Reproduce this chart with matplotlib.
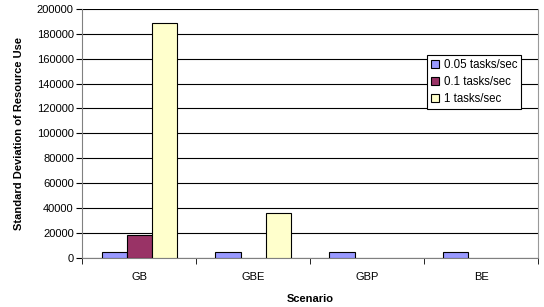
import matplotlib
matplotlib.use("Agg")
import matplotlib.pyplot as plt
import numpy as np

plt.rcParams["font.family"] = ["Liberation Sans", "DejaVu Sans"]

scenarios = ["GB", "GBE", "GBP", "BE"]
series_names = ["0.05 tasks/sec", "0.1 tasks/sec", "1 tasks/sec"]
rate_005 = [5000, 5000, 5000, 5000]
rate_01 = [18000, 0, 0, 0]
rate_1 = [188500, 36000, 0, 0]
colors = ["#9999FF", "#993366", "#FFFFCC"]

fig = plt.figure(figsize=(5.44, 3.07), dpi=100)
ax = fig.add_axes([0.151, 0.160, 0.838, 0.811])

x = np.arange(len(scenarios))
width = 0.22
for i, (vals, name, col) in enumerate(zip([rate_005, rate_01, rate_1], series_names, colors)):
    bars = ax.bar(x + (i - 1) * width, vals, width, color=col, edgecolor="black",
                  linewidth=0.8, label=name, zorder=3)
    for b, v in zip(bars, vals):
        if v == 0:
            b.set_visible(False)

ax.set_xlim(-0.5, len(scenarios) - 0.5)
ax.set_ylim(0, 200000)
ax.set_yticks(np.arange(0, 200001, 20000))
ax.yaxis.grid(True, color="black", linewidth=0.8, zorder=0)

ax.set_xticks(x)
ax.set_xticklabels(scenarios, fontsize=8)
ax.set_xticks(np.arange(-0.5, len(scenarios)), minor=True)
ax.tick_params(axis="x", which="major", length=0, pad=10)
ax.tick_params(axis="x", which="minor", length=4, color="black")
ax.tick_params(axis="y", labelsize=8, length=4, pad=2)

ax.spines["top"].set_visible(False)
ax.spines["right"].set_color("#999999")
ax.spines["left"].set_color("#808080")
ax.spines["bottom"].set_color("#808080")

ax.set_xlabel("Scenario", fontsize=8, fontweight="bold", labelpad=9)
ax.set_ylabel("Standard Deviation of Resource Use", fontsize=8, fontweight="bold", labelpad=9)

leg = ax.legend(loc="upper left", bbox_to_anchor=(0.757, 0.815), fontsize=8.3,
                frameon=True, fancybox=False, edgecolor="black", framealpha=1,
                handlelength=0.7, handleheight=0.7, handletextpad=0.4,
                borderpad=0.35, labelspacing=0.45, borderaxespad=0)
leg.get_frame().set_linewidth(0.8)

fig.savefig("out.png", dpi=100)
